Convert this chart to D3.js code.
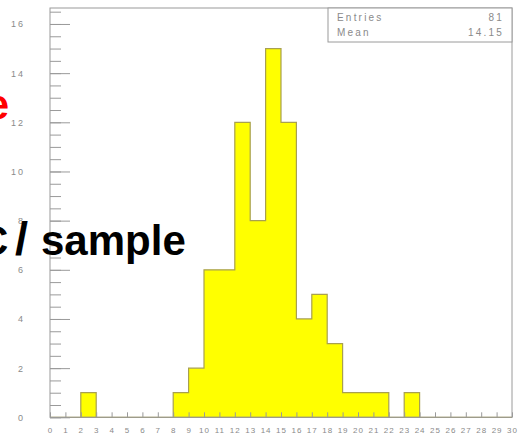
<!DOCTYPE html>
<html>
<head>
<meta charset="utf-8">
<script src="https://cdn.jsdelivr.net/npm/d3@7"></script>
<style>
  html, body { margin: 0; padding: 0; background: #fff; }
  svg { display: block; font-family: "Liberation Sans", Arial, sans-serif; }
</style>
</head>
<body>
<svg id="chart" width="520" height="436"></svg>
<script>
// Histogram: one bin per unit from 0 to 30
const binLow = d3.range(0, 30);
const counts = [0, 0, 1, 0, 0, 0, 0, 0, 1, 2, 6, 6, 12, 8, 15, 12, 4, 5, 3, 1, 1, 1, 0, 1, 0, 0, 0, 0, 0, 0];
const xTicks = d3.range(0, 31);
const yMajorTicks = [0, 2, 4, 6, 8, 10, 12, 14, 16];
const yMinorTicks = d3.range(0, 16.6, 0.5);
const statLabels = ["Entries", "Mean"];
const statValues = ["81", "14.15"];

const svg = d3.select("#chart");
const x = d3.scaleLinear().domain([0, 30]).range([50, 512]);
const y = d3.scaleLinear().domain([0, 16.65]).range([417.3, 8]);
const axisCol = "#9a9a9a";
const labelCol = "#8a8a8a";

// Filled histogram with a stepped outline
const pts = binLow.map((b, i) => [b, counts[i]]);
pts.push([30, counts[counts.length - 1]]);
const area = d3.area()
  .x(d => x(d[0]))
  .y0(y(0))
  .y1(d => y(d[1]))
  .curve(d3.curveStepAfter);
svg.append("path")
  .attr("d", area(pts))
  .attr("fill", "#ffff00")
  .attr("stroke", "#a8a050")
  .attr("stroke-width", 1.2);

// Frame
svg.append("rect")
  .attr("x", x(0)).attr("y", y.range()[1])
  .attr("width", x(30) - x(0)).attr("height", y(0) - y.range()[1])
  .attr("fill", "none").attr("stroke", axisCol).attr("stroke-width", 1);

// X axis: ticks pointing inward, one label per integer
const gx = svg.append("g").attr("transform", `translate(0,${y(0)})`)
  .call(d3.axisBottom(x).tickValues(xTicks).tickSize(-5).tickPadding(10).tickFormat(d3.format("d")));
gx.select(".domain").remove();
gx.selectAll("line").attr("stroke", axisCol);
gx.selectAll("text").attr("fill", labelCol).attr("font-size", 8).attr("letter-spacing", 1);

// Y axis: long major ticks and short minor ticks
const gyMinor = svg.append("g").attr("transform", `translate(${x(0)},0)`)
  .call(d3.axisLeft(y).tickValues(yMinorTicks).tickSize(-11).tickFormat(""));
gyMinor.select(".domain").remove();
gyMinor.selectAll("line").attr("stroke", axisCol);

const gy = svg.append("g").attr("transform", `translate(${x(0)},0)`)
  .call(d3.axisLeft(y).tickValues(yMajorTicks).tickSize(-20).tickPadding(25).tickFormat(d3.format("d")));
gy.select(".domain").remove();
gy.selectAll("line").attr("stroke", axisCol);
gy.selectAll("text").attr("fill", labelCol).attr("font-size", 9).attr("letter-spacing", 2);

// Statistics box (wide, spaced lettering)
const boxL = 328, boxT = y.range()[1], boxB = 42;
svg.append("rect")
  .attr("x", boxL).attr("y", boxT)
  .attr("width", x(30) - boxL).attr("height", boxB - boxT)
  .attr("fill", "#fff").attr("stroke", axisCol).attr("stroke-width", 1);
statLabels.forEach((s, i) => {
  svg.append("text").attr("x", 337).attr("y", 21 + i * 15)
    .attr("font-size", 10).attr("fill", labelCol)
    .attr("letter-spacing", 2.2).text(s);
  svg.append("text").attr("x", 504).attr("y", 21 + i * 15)
    .attr("font-size", 10).attr("fill", labelCol).attr("text-anchor", "end")
    .attr("letter-spacing", 2.2).text(statValues[i]);
});

// Overlaid slide captions
svg.append("text")
  .attr("x", 9).attr("y", 119)
  .attr("text-anchor", "end")
  .attr("font-size", 42).attr("font-weight", "bold").attr("fill", "#ff0000")
  .text("e");

const cap = svg.append("text")
  .attr("y", 255)
  .attr("font-size", 42).attr("font-weight", "bold").attr("fill", "#000");
cap.append("tspan").attr("x", -22).text("C");
cap.append("tspan").attr("x", 15).attr("font-size", 47).text("/");
cap.append("tspan").attr("x", 41).text("sample");
</script>
</body>
</html>
